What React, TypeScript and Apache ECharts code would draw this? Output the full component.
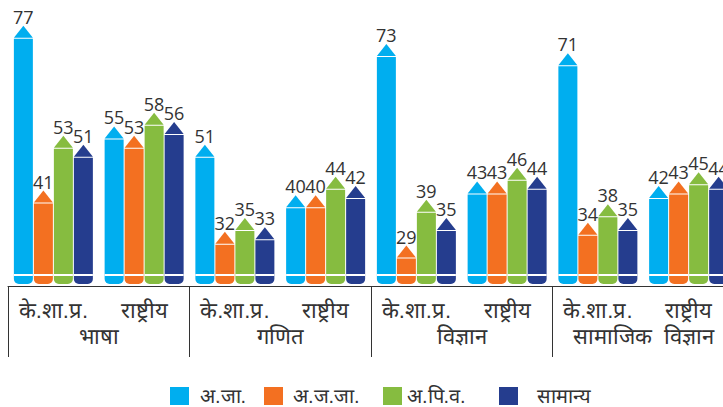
import React, { useEffect, useRef } from "react";
import * as echarts from "echarts";

const seriesNames = ["अ.जा.", "अ.ज.जा.", "अ.पि.व.", "सामान्य"];
const seriesColors = ["#00AEEF", "#F37021", "#86BC40", "#253D8E"];
const clusterLabels = [
  "के.शा.प्र.", "राष्ट्रीय",
  "के.शा.प्र.", "राष्ट्रीय",
  "के.शा.प्र.", "राष्ट्रीय",
  "के.शा.प्र.", "राष्ट्रीय",
];
const subjectLabels = ["भाषा", "गणित", "विज्ञान", "सामाजिक  विज्ञान"];

const scValues = [77, 55, 51, 40, 73, 43, 71, 42];
const stValues = [41, 53, 32, 40, 29, 43, 34, 43];
const obcValues = [53, 58, 35, 44, 39, 46, 38, 45];
const genValues = [51, 56, 33, 42, 35, 44, 35, 44];
const allValues = [scValues, stValues, obcValues, genValues];

const AXIS_MIN = 23;
const AXIS_MAX = 80;

const legendLefts = [170, 264, 383, 499];
const legendTextPad = [6, 5, 0, 14];

function makeRender(sIdx: number, color: string) {
  return (params: any, api: any) => {
    const cat = api.value(0);
    const val = api.value(1);
    const top = api.coord([cat, val]);
    const base = api.coord([cat, AXIS_MIN]);
    const w = 19;
    const gap = 1;
    const x = top[0] + (sIdx - 1.5) * (w + gap) - w / 2;
    const bottom = base[1] - 2;
    return {
      type: "group",
      children: [
        {
          type: "rect",
          shape: { x, y: top[1], width: w, height: bottom - top[1], r: [0, 0, 5, 5] },
          style: { fill: color },
        },
        {
          type: "polygon",
          shape: {
            points: [
              [x, top[1] - 1],
              [x + w / 2, top[1] - 13],
              [x + w, top[1] - 1],
            ],
          },
          style: { fill: color },
        },
        {
          type: "line",
          shape: { x1: x, y1: bottom - 9, x2: x + w, y2: bottom - 9 },
          style: { stroke: "#ffffff", lineWidth: 2 },
        },
        {
          type: "text",
          style: {
            text: String(val),
            x: x + w / 2,
            y: top[1] - 13,
            align: "center",
            verticalAlign: "bottom",
            fontSize: 18,
            fontFamily: "Open Sans",
            fill: "#333333",
          },
        },
      ],
    };
  };
}

export default function App() {
  const ref = useRef<HTMLDivElement>(null);
  useEffect(() => {
    if (!ref.current) return;
    const chart = echarts.init(ref.current, null, { renderer: "svg" });
    const option: any = {
      animation: false,
      backgroundColor: "#ffffff",
      grid: { left: 8, right: 0, top: 25, bottom: 121 },
      legend: seriesNames.map((n, i) => ({
        data: [n],
        left: legendLefts[i],
        top: 386,
        icon: "rect",
        itemWidth: 19,
        itemHeight: 18,
        padding: 0,
        textStyle: {
          fontSize: 20,
          lineHeight: 18,
          color: "#333333",
          padding: [0, 0, 0, legendTextPad[i]],
        },
      })),
      xAxis: [
        {
          type: "category",
          data: clusterLabels,
          position: "bottom",
          axisLine: { show: true, lineStyle: { color: "#333333", width: 1 } },
          axisTick: { show: false },
          axisLabel: {
            interval: 0,
            fontSize: 22,
            color: "#333333",
            margin: 12,
            lineHeight: 24,
          },
        },
        {
          type: "category",
          data: subjectLabels,
          position: "bottom",
          axisLine: { show: false },
          axisTick: {
            show: true,
            interval: 0,
            length: 71,
            lineStyle: { color: "#333333", width: 1 },
          },
          axisLabel: {
            interval: 0,
            fontSize: 22,
            color: "#333333",
            margin: 38,
            lineHeight: 24,
          },
        },
      ],
      yAxis: {
        type: "value",
        min: AXIS_MIN,
        max: AXIS_MAX,
        show: false,
        splitLine: { show: false },
      },
      series: seriesNames.map((name, i) => ({
        name,
        type: "custom",
        xAxisIndex: 0,
        itemStyle: { color: seriesColors[i] },
        renderItem: makeRender(i, seriesColors[i]),
        encode: { x: 0, y: 1 },
        data: allValues[i].map((v, j) => [j, v]),
        clip: false,
      })),
    };
    chart.setOption(option);
    return () => chart.dispose();
  }, []);
  return (
    <div style={{ position: "fixed", left: 0, top: 0, width: 723, height: 407, overflow: "hidden" }}>
      <div ref={ref} style={{ position: "absolute", left: 0, top: 0, width: 734, height: 407 }} />
    </div>
  );
}
